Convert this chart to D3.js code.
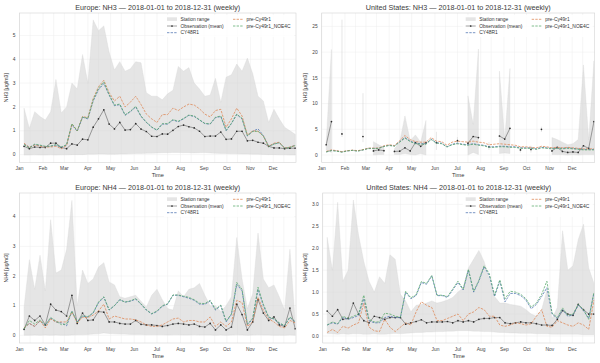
<!DOCTYPE html>
<html>
<head>
<meta charset="utf-8">
<script src="https://cdn.jsdelivr.net/npm/d3@7"></script>
<style>
  body { margin: 0; background: #fff; }
  svg { display: block; font-family: "Liberation Sans", "DejaVu Sans", Arial, sans-serif; }
</style>
</head>
<body>
<div id="chart"></div>
<script>
// weekly time axis (Sunday weeks, 2018)
var startDate = new Date(2018, 0, 1);
var endDate = new Date(2018, 11, 31);
var firstWeek = new Date(2018, 0, 7);
var weeks = d3.timeSunday.range(firstWeek, endDate);

var seriesNames = ["Station range", "Observation (mean)", "CY48R1", "pre-Cy49r1", "pre-Cy49r1_NOE4C"];

// Europe NH3
var euNh3Min = [-0.02,-0.02,-0.01,-0.02,-0.02,-0.01,-0.02,-0.01,-0.01,0.0, 0.0,0.0,0.02,0.02,0.03,0.03,0.02,0.02,0.03,0.03, 0.04,0.05,0.05,0.06,0.06,0.07,0.08,0.08,0.09,0.09, 0.08,0.08,0.07,0.08,0.09,0.07,0.06,0.05,0.05,0.04, 0.04,0.03,0.03,0.02,0.02,0.01,0.0,0.0,-0.01,-0.01, -0.02,-0.02];
var euNh3Max = [1.95,1.1,1.8,1.6,1.45,1.8,3.15,1.75,2.0,3.0, 2.75,4.2,3.0,5.65,5.2,5.4,4.3,3.55,3.9,3.5, 3.6,3.9,3.85,2.6,2.45,2.45,2.3,2.55,2.7,3.7, 3.5,3.65,3.0,2.75,2.45,2.5,3.2,2.2,3.25,3.35, 3.8,3.5,4.05,3.4,2.45,2.25,1.35,1.9,1.5,1.15, 1.0,0.85];
var euNh3Obs = [0.35,0.25,0.32,0.3,0.3,0.48,0.48,0.3,0.25,0.45, 0.4,0.65,0.62,1.15,1.5,1.88,1.28,1.08,1.35,1.03, 1.05,1.3,1.07,0.97,0.77,0.76,0.87,0.86,1.02,1.18, 1.24,1.17,1.12,0.98,0.76,0.78,0.78,0.95,0.64,0.66, 0.98,0.98,0.58,0.6,0.52,0.48,0.35,0.28,0.28,0.25, 0.27,0.27];
var euNh3Cy48 = [0.45,0.3,0.42,0.38,0.33,0.35,0.4,0.3,0.4,1.25, 0.98,1.57,1.5,2.25,2.72,2.98,2.5,2.05,2.1,1.65, 1.8,2.0,1.6,1.35,1.15,1.02,1.28,1.28,1.45,1.38, 1.5,1.65,1.6,1.45,1.3,1.28,1.55,1.6,1.0,1.3, 1.68,1.5,0.78,0.98,1.08,0.8,0.35,0.45,0.5,0.28, 0.3,0.4];
var euNh3Pre = [0.48,0.3,0.4,0.35,0.32,0.32,0.35,0.25,0.38,1.28, 1.0,1.6,1.55,2.35,2.85,3.12,2.6,2.25,2.45,2.0, 2.2,2.45,2.1,1.7,1.5,1.35,1.68,1.68,1.95,1.85, 2.0,2.12,2.08,1.92,1.7,1.58,1.85,1.9,1.15,1.5, 1.95,1.62,0.82,1.0,0.98,0.78,0.35,0.48,0.52,0.27, 0.32,0.38];
var euNh3Noe = [0.42,0.28,0.44,0.4,0.35,0.36,0.42,0.32,0.42,1.3, 1.0,1.58,1.52,2.3,2.78,3.05,2.52,2.08,2.12,1.67, 1.82,2.03,1.62,1.36,1.16,1.03,1.3,1.3,1.47,1.4, 1.52,1.66,1.62,1.46,1.31,1.29,1.57,1.62,1.02,1.32, 1.7,1.52,0.8,0.97,0.98,0.78,0.34,0.44,0.5,0.27, 0.3,0.38];

// United States NH3 (gaps where no stations reported)
var usNh3Min = [1.0,0.5,null,3.5,null,null,null,2.5,null,0.0, 0.1,0.1,null,0.1,0.1,0.3,0.1,0.0,0.3,0.0, null,1.0,null,null,null,2.0,null,0.0,0.5,0.1, null,1.0,null,0.3,0.4,0.3,null,0.5,null,0.5, null,4.5,null,0.1,0.1,0.1,0.0,0.1,0.0,0.1, 0.1,0.1];
var usNh3Max = [2.5,20.5,null,26.3,null,null,null,12.0,null,2.6, 2.0,1.5,null,1.2,2.5,7.6,2.8,3.9,2.5,6.7, null,4.5,null,null,null,3.5,null,11.5,6.0,20.6, null,2.5,null,16.3,3.0,16.8,null,1.5,null,1.8, null,5.5,null,3.4,3.0,2.5,2.0,2.2,3.0,17.5, 3.0,18.3];
var usNh3Obs = [2.0,6.5,null,4.1,null,null,null,3.6,null,0.8, 1.0,0.85,null,0.7,0.75,1.4,0.8,2.4,1.7,2.4, null,2.4,null,null,null,2.8,null,2.3,3.6,3.4, null,1.6,null,3.7,3.1,5.2,null,1.0,null,1.1, null,5.0,null,0.8,1.5,0.7,0.5,0.6,0.5,1.8, 1.3,6.5];
var usNh3Cy48 = [0.6,0.9,0.8,0.6,0.8,0.9,0.8,1.0,1.3,1.3, 1.3,1.7,1.9,1.8,2.6,3.4,2.7,2.3,2.2,2.2, 3.1,2.4,2.3,1.6,2.1,2.3,2.1,2.0,2.2,2.0, 1.9,1.6,1.6,1.7,1.7,1.6,1.6,1.4,1.4,1.4, 1.2,1.5,1.4,1.3,1.4,1.3,1.4,1.3,1.2,1.1, 1.1,1.1];
var usNh3Pre = [0.7,1.0,0.85,0.65,0.85,0.95,0.85,1.05,1.35,1.35, 1.35,1.8,2.0,1.85,2.8,3.8,3.0,2.6,2.5,2.5, 3.4,2.7,2.6,1.9,2.5,2.7,2.6,2.5,2.7,2.5, 2.4,2.0,2.1,2.2,2.1,2.0,1.9,1.6,1.6,1.5, 1.4,1.7,1.6,1.4,1.5,1.4,1.5,1.4,1.3,1.2, 1.2,1.2];
var usNh3Noe = [0.6,0.85,0.75,0.55,0.8,0.9,0.75,1.0,1.25,1.25, 1.3,1.65,1.85,1.7,2.5,3.3,2.6,2.2,2.1,2.1, 3.0,2.3,2.2,1.55,2.0,2.2,2.0,1.9,2.1,1.9, 1.8,1.5,1.5,1.6,1.6,1.5,1.5,1.3,1.3,1.3, 1.1,1.4,1.3,1.2,1.3,1.2,1.3,1.2,1.1,1.0, 1.0,1.0];

// Europe NH4
var euNh4Min = [0.0,0.0,0.01,0.0,0.01,0.0,0.01,0.0,0.0,0.01, 0.02,0.02,0.03,0.04,0.05,0.08,0.06,0.05,0.04,0.04, 0.03,0.03,0.03,0.02,0.02,0.02,0.02,0.01,0.02,0.02, 0.01,0.01,0.02,0.01,0.01,0.01,0.0,0.01,0.0,0.01, 0.02,0.01,0.0,0.01,0.02,0.01,0.01,0.0,0.0,0.0, 0.01,0.0];
var euNh4Max = [0.95,2.55,1.55,2.7,1.5,3.9,2.1,2.2,2.9,4.55, 1.0,2.2,1.75,1.9,2.3,2.45,1.8,1.7,1.3,1.25, 1.3,1.35,1.15,0.95,1.35,1.55,1.2,0.9,0.85,1.5, 1.3,1.55,1.6,1.75,1.35,1.0,1.0,0.8,1.0,1.3, 3.3,1.9,0.9,1.4,3.45,1.9,1.6,1.7,1.3,0.85, 2.9,0.45];
var euNh4Obs = [0.2,0.65,0.5,0.65,0.35,1.05,0.85,0.8,0.65,1.35, 0.4,0.75,0.5,0.52,0.8,0.78,0.45,0.45,0.4,0.38, 0.38,0.5,0.37,0.35,0.35,0.33,0.3,0.33,0.38,0.4, 0.38,0.35,0.38,0.3,0.28,0.4,0.18,0.35,0.18,0.28, 1.05,0.7,0.18,0.45,1.2,0.75,0.5,0.62,0.35,0.3, 0.92,0.22];
var euNh4Cy48 = [0.25,0.4,0.3,0.48,0.33,0.58,0.45,0.42,0.32,0.8, 0.45,0.65,0.62,0.75,1.1,1.28,0.85,1.0,1.2,1.12, 1.15,1.22,1.05,0.85,0.72,0.8,0.98,1.05,1.35,1.35, 1.3,1.25,1.18,1.05,1.05,1.15,0.85,1.0,0.45,0.7, 1.72,1.5,0.35,0.55,1.55,1.0,0.6,0.55,0.4,0.32, 0.6,0.45];
var euNh4Pre = [0.25,0.4,0.3,0.5,0.25,0.55,0.45,0.45,0.45,0.78, 0.42,0.6,0.6,0.68,0.82,1.05,0.55,0.65,0.6,0.55, 0.55,0.52,0.45,0.35,0.3,0.3,0.35,0.45,0.55,0.58, 0.45,0.5,0.5,0.45,0.45,0.62,0.3,0.45,0.3,0.45, 1.18,1.1,0.3,0.45,1.28,0.85,0.55,0.45,0.3,0.25, 0.5,0.42];
var euNh4Noe = [0.22,0.5,0.38,0.52,0.35,0.6,0.48,0.36,0.38,0.82, 0.45,0.66,0.63,0.76,1.12,1.3,0.86,1.0,1.2,1.12, 1.16,1.24,1.06,0.86,0.73,0.82,1.0,1.06,1.36,1.36, 1.32,1.28,1.2,1.08,1.07,1.18,0.88,1.02,0.48,0.72, 1.78,1.55,0.38,0.58,1.62,1.05,0.62,0.56,0.42,0.33, 0.62,0.46];

// United States NH4
var usNh4Min = [0.05,0.05,0.04,0.05,0.04,0.05,0.05,0.04,0.04,0.05, 0.04,0.04,0.05,0.06,0.05,0.06,0.07,0.08,0.08,0.09, 0.09,0.1,0.1,0.11,0.11,0.12,0.12,0.12,0.11,0.11, 0.1,0.1,0.09,0.08,0.08,0.07,0.07,0.06,0.06,0.06, 0.05,0.05,0.05,0.04,0.04,0.04,0.04,0.04,0.04,0.03, 0.03,0.03];
var usNh4Max = [2.25,1.5,3.05,1.25,1.5,3.1,2.3,1.7,1.25,1.0, 1.35,1.2,1.85,1.75,0.95,0.8,0.55,0.7,0.72,0.75, 0.8,0.75,0.78,0.82,0.88,1.0,1.1,1.55,1.75,1.95, 1.7,1.3,0.9,0.75,0.75,0.72,0.7,0.68,0.6,0.5, 0.45,0.6,1.05,0.4,0.65,2.4,1.5,1.6,2.2,2.55, 1.55,1.2];
var usNh4Obs = [0.57,0.45,0.6,0.38,0.4,0.75,0.5,0.35,0.3,0.45, 0.42,0.38,0.42,0.42,0.42,0.27,0.3,0.33,0.37,0.3, 0.32,0.32,0.32,0.33,0.3,0.35,0.32,0.35,0.32,0.38, 0.4,0.4,0.42,0.42,0.3,0.28,0.3,0.32,0.3,0.3, 0.28,0.25,0.25,0.24,0.38,0.58,0.5,0.47,0.72,0.6, 0.5,0.5];
var usNh4Cy48 = [0.25,0.3,0.27,0.42,0.38,0.42,0.47,0.85,0.35,0.3, 0.3,0.42,0.45,0.42,0.42,1.0,0.85,0.92,1.22,1.18, 1.37,0.92,0.92,0.88,1.05,1.22,1.05,1.5,1.0,1.25, 1.58,1.38,0.9,1.25,0.78,0.97,0.97,0.92,0.82,0.62, 0.72,0.9,1.1,0.5,0.4,0.6,0.45,0.48,0.7,0.58, 0.4,0.98];
var usNh4Pre = [0.08,0.15,0.08,0.22,0.18,0.25,0.3,0.75,0.2,0.12, 0.1,0.38,0.2,0.1,0.2,0.3,0.25,0.55,0.78,0.7, 0.65,0.35,0.35,0.4,0.45,0.5,0.35,0.5,0.55,0.65, 0.6,0.45,0.45,0.25,0.22,0.25,0.3,0.28,0.25,0.28, 0.45,0.6,0.22,0.2,0.35,0.3,0.25,0.22,0.3,0.25, 0.15,0.82];
var usNh4Noe = [0.25,0.32,0.28,0.45,0.4,0.45,0.5,0.93,0.38,0.32, 0.32,0.52,0.5,0.45,0.43,1.02,0.87,0.94,1.24,1.2, 1.38,0.93,0.93,0.9,1.07,1.25,1.07,1.52,1.02,1.27, 1.6,1.42,0.93,1.28,0.85,1.02,1.0,0.95,0.85,0.66, 0.75,0.95,1.25,0.52,0.42,0.64,0.47,0.5,0.72,0.6, 0.38,1.0];

var colors = {
    range: "#d3d3d3",
    obs: "#555555",
    cy48: "#4c72b0",
    pre: "#dd8452",
    noe: "#55a868"
};

var width = 600;
var height = 363;

var svg = d3.select("#chart").append("svg")
    .attr("width", width)
    .attr("height", height);

//One panel per region / species
var panels = [
    { title: "Europe: NH3 \u2014 2018-01-01 to 2018-12-31 (weekly)", ylabel: "NH3 [\u00b5g/m3]",
      box: [19.5, 13, 296, 162.5], domain: [-0.33, 5.94], ticks: [0, 1, 2, 3, 4, 5], fmt: d3.format("d"), ylx: 12,
      min: euNh3Min, max: euNh3Max, obs: euNh3Obs, cy48: euNh3Cy48, pre: euNh3Pre, noe: euNh3Noe },
    { title: "United States: NH3 \u2014 2018-01-01 to 2018-12-31 (weekly)", ylabel: "NH3 [\u00b5g/m3]",
      box: [321.7, 13, 594.7, 162.5], domain: [-1.45, 27.6], ticks: [0, 5, 10, 15, 20, 25], fmt: d3.format("d"), ylx: 14.5,
      min: usNh3Min, max: usNh3Max, obs: usNh3Obs, cy48: usNh3Cy48, pre: usNh3Pre, noe: usNh3Noe },
    { title: "Europe: NH4 \u2014 2018-01-01 to 2018-12-31 (weekly)", ylabel: "NH4 [\u00b5g/m3]",
      box: [19.5, 193, 296, 343], domain: [-0.26, 4.8], ticks: [0, 1, 2, 3, 4], fmt: d3.format("d"), ylx: 12,
      min: euNh4Min, max: euNh4Max, obs: euNh4Obs, cy48: euNh4Cy48, pre: euNh4Pre, noe: euNh4Noe },
    { title: "United States: NH4 \u2014 2018-01-01 to 2018-12-31 (weekly)", ylabel: "NH4 [\u00b5g/m3]",
      box: [322.7, 193, 594.7, 343], domain: [-0.16, 3.26], ticks: [0, 0.5, 1, 1.5, 2, 2.5, 3], fmt: d3.format(".1f"), ylx: 15.5,
      min: usNh4Min, max: usNh4Max, obs: usNh4Obs, cy48: usNh4Cy48, pre: usNh4Pre, noe: usNh4Noe }
];

function isNum(v) { return v !== null && v !== undefined; }

function drawPanel(p) {
    var x0 = p.box[0], y0 = p.box[1], x1 = p.box[2], y1 = p.box[3];
    var x = d3.scaleTime().domain([startDate, endDate]).range([x0, x1]);
    var y = d3.scaleLinear().domain(p.domain).range([y1, y0]);
    var g = svg.append("g");

    //Grid lines (months + mid-month, y ticks)
    var gridDates = d3.timeMonth.range(startDate, endDate).reduce(function(acc, d) {
        acc.push(d);
        acc.push(new Date(d.getFullYear(), d.getMonth(), 15));
        return acc;
    }, []);
    g.selectAll(".vgrid").data(gridDates).enter().append("line")
        .attr("x1", function(d) { return x(d); }).attr("x2", function(d) { return x(d); })
        .attr("y1", y0).attr("y2", y1)
        .attr("stroke", "#ececec").attr("stroke-width", 0.5);
    g.selectAll(".hgrid").data(p.ticks).enter().append("line")
        .attr("x1", x0).attr("x2", x1)
        .attr("y1", function(d) { return y(d); }).attr("y2", function(d) { return y(d); })
        .attr("stroke", "#ececec").attr("stroke-width", 0.5);

    var clipId = "clip" + Math.round(x0) + "_" + Math.round(y0);
    svg.append("clipPath").attr("id", clipId).append("rect")
        .attr("x", x0).attr("y", y0).attr("width", x1 - x0).attr("height", y1 - y0);
    var plot = g.append("g").attr("clip-path", "url(#" + clipId + ")");

    //Station range band
    var rangeData = weeks.map(function(d, i) { return { date: d, lo: p.min[i], hi: p.max[i] }; });
    var area = d3.area()
        .defined(function(d) { return isNum(d.lo) && isNum(d.hi); })
        .x(function(d) { return x(d.date); })
        .y0(function(d) { return y(d.lo); })
        .y1(function(d) { return y(d.hi); });
    plot.append("path")
        .attr("d", area(rangeData))
        .attr("fill", colors.range).attr("fill-opacity", 0.6)
        .attr("stroke", colors.range).attr("stroke-opacity", 0.6).attr("stroke-width", 0.5);

    var line = d3.line()
        .defined(function(d) { return isNum(d.v); })
        .x(function(d) { return x(d.date); })
        .y(function(d) { return y(d.v); });
    function toPoints(arr) { return weeks.map(function(d, i) { return { date: d, v: arr[i] }; }); }

    //Observation (mean)
    var obsPts = toPoints(p.obs);
    plot.append("path").attr("d", line(obsPts))
        .attr("fill", "none").attr("stroke", colors.obs).attr("stroke-width", 0.55);
    plot.selectAll(".obs").data(obsPts.filter(function(d) { return isNum(d.v); })).enter().append("circle")
        .attr("cx", function(d) { return x(d.date); })
        .attr("cy", function(d) { return y(d.v); })
        .attr("r", 0.85).attr("fill", "#2a2a2a");

    //Model lines
    [["cy48", colors.cy48], ["pre", colors.pre], ["noe", colors.noe]].forEach(function(s) {
        plot.append("path").attr("d", line(toPoints(p[s[0]])))
            .attr("fill", "none").attr("stroke", s[1]).attr("stroke-width", 0.75)
            .attr("stroke-dasharray", "2.4,1.2");
    });

    //Frame
    g.append("rect").attr("x", x0).attr("y", y0).attr("width", x1 - x0).attr("height", y1 - y0)
        .attr("fill", "none").attr("stroke", "#d4d4d4").attr("stroke-width", 0.6);

    //Axes text
    var monthFmt = d3.timeFormat("%b");
    g.selectAll(".xt").data(d3.timeMonth.range(startDate, endDate)).enter().append("text")
        .attr("x", function(d) { return x(d); }).attr("y", y1 + 7.5)
        .attr("text-anchor", "middle").attr("font-size", 4.9).attr("fill", "#444")
        .text(function(d) { return monthFmt(d); });
    g.selectAll(".yt").data(p.ticks).enter().append("text")
        .attr("x", x0 - 4).attr("y", function(d) { return y(d) + 1.7; })
        .attr("text-anchor", "end").attr("font-size", 4.9).attr("fill", "#444")
        .text(function(d) { return p.fmt(d); });
    g.append("text").attr("x", (x0 + x1) / 2).attr("y", y1 + 14.5)
        .attr("text-anchor", "middle").attr("font-size", 5.6).attr("fill", "#333").text("Time");
    g.append("text").attr("transform", "translate(" + (x0 - p.ylx) + "," + ((y0 + y1) / 2) + ") rotate(-90)")
        .attr("text-anchor", "middle").attr("font-size", 5.2).attr("fill", "#333").text(p.ylabel);
    g.append("text").attr("x", (x0 + x1) / 2).attr("y", y0 - 3.5)
        .attr("text-anchor", "middle").attr("font-size", 7.2).attr("fill", "#3a3a3a").text(p.title);

    //Legend, two columns inside top right
    var lg = g.append("g");
    var cols = [x1 - 129, x1 - 63];
    var rows = [y0 + 6.3, y0 + 13, y0 + 19.7];
    var items = [
        { name: seriesNames[0], type: "patch", col: 0, row: 0 },
        { name: seriesNames[1], type: "obs", col: 0, row: 1 },
        { name: seriesNames[2], type: "dash", color: colors.cy48, col: 0, row: 2 },
        { name: seriesNames[3], type: "dash", color: colors.pre, col: 1, row: 0 },
        { name: seriesNames[4], type: "dash", color: colors.noe, col: 1, row: 1 }
    ];
    lg.append("rect").attr("x", cols[0] - 3).attr("y", y0 + 2).attr("width", x1 - cols[0] + 1).attr("height", 22)
        .attr("fill", "#fff").attr("fill-opacity", 0.8);
    items.forEach(function(it) {
        var lx = cols[it.col], ly = rows[it.row];
        if (it.type === "patch") {
            lg.append("rect").attr("x", lx).attr("y", ly - 2).attr("width", 10).attr("height", 3.6)
                .attr("fill", colors.range).attr("fill-opacity", 0.6);
        } else if (it.type === "obs") {
            lg.append("line").attr("x1", lx).attr("x2", lx + 10).attr("y1", ly).attr("y2", ly)
                .attr("stroke", colors.obs).attr("stroke-width", 0.55);
            lg.append("circle").attr("cx", lx + 5).attr("cy", ly).attr("r", 0.85).attr("fill", "#2a2a2a");
        } else {
            lg.append("line").attr("x1", lx).attr("x2", lx + 10).attr("y1", ly).attr("y2", ly)
                .attr("stroke", it.color).attr("stroke-width", 0.75).attr("stroke-dasharray", "2.4,1.2");
        }
        lg.append("text").attr("x", lx + 13.5).attr("y", ly + 1.7)
            .attr("font-size", 4.9).attr("fill", "#333").text(it.name);
    });
}

panels.forEach(drawPanel);
</script>
</body>
</html>
